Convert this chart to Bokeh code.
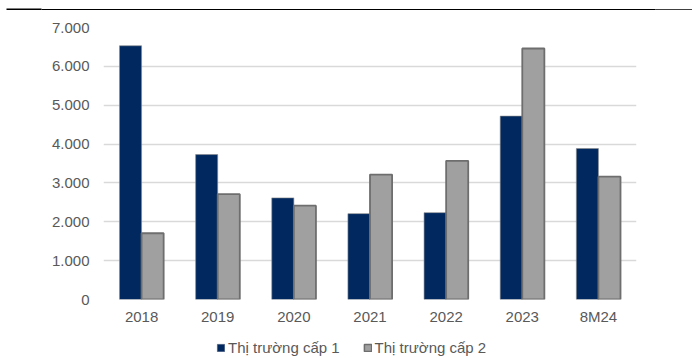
from bokeh.plotting import figure
from bokeh.models import (FactorRange, Range1d, ColumnDataSource, FixedTicker,
                          Legend, LegendItem)
from bokeh.transform import dodge
from bokeh.layouts import column
from bokeh.embed import file_html
from bokeh.resources import INLINE

# ---- data ----
categories = ["2018", "2019", "2020", "2021", "2022", "2023", "8M24"]
cap1 = [6530, 3730, 2615, 2210, 2235, 4720, 3885]
cap2 = [1705, 2710, 2415, 3215, 3570, 6460, 3160]
series_names = ["Thị trường cấp 1", "Thị trường cấp 2"]
y_ticks = [0, 1000, 2000, 3000, 4000, 5000, 6000, 7000]
y_tick_labels = ["0", "1.000", "2.000", "3.000", "4.000", "5.000", "6.000", "7.000"]

NAVY = "#012960"
GRAY = "#A0A0A0"
GRAY_EDGE = "#6E6E6E"
TXT = "#595959"
FONT = "Liberation Sans"


def bare(fig):
    fig.axis.visible = False
    fig.grid.visible = False
    fig.outline_line_color = None
    fig.frame_align = False
    return fig


# ---- top decorative rule ----
top = bare(figure(width=692, height=10, x_range=Range1d(0, 692), y_range=Range1d(10, 0),
                  output_backend="svg", toolbar_location=None,
                  min_border=0, min_border_left=0, min_border_right=0,
                  min_border_top=0, min_border_bottom=0))
top.segment(x0=[41], y0=[7], x1=[655], y1=[7], line_color="black", line_width=1)
top.segment(x0=[6], y0=[7.2], x1=[41], y1=[7.2], line_color="black", line_width=2.4)
top.segment(x0=[655], y0=[8], x1=[692], y1=[8], line_color="black", line_width=2.4)

# ---- main chart ----
src = ColumnDataSource(dict(cat=categories, cap1=cap1, cap2=cap2))

p = figure(width=692, height=325, x_range=FactorRange(*categories, range_padding=0),
           y_range=Range1d(0, 7000), output_backend="svg", toolbar_location=None,
           min_border_left=103, min_border_right=56, min_border_top=17,
           min_border_bottom=36)
p.outline_line_color = None
p.background_fill_color = "white"
p.border_fill_color = "white"

p.vbar(x=dodge("cat", -0.145, range=p.x_range), top="cap1", width=0.29,
       source=src, fill_color=NAVY, line_color="#8c8c8c", line_width=0.6)
p.vbar(x=dodge("cat", 0.145, range=p.x_range), top="cap2", width=0.29,
       source=src, fill_color=GRAY, line_color=GRAY_EDGE, line_width=1.8)

p.xgrid.visible = False
p.ygrid.grid_line_color = "#D9D9D9"
p.ygrid.grid_line_width = 1.3
p.yaxis.ticker = FixedTicker(ticks=y_ticks)
p.yaxis.major_label_overrides = {t: l for t, l in zip(y_ticks, y_tick_labels)}

for ax in (p.xaxis[0], p.yaxis[0]):
    ax.axis_line_color = None
    ax.major_tick_line_color = None
    ax.minor_tick_line_color = None
    ax.major_tick_out = 0
    ax.major_tick_in = 0
    ax.major_label_text_font = FONT
    ax.major_label_text_font_size = "15px"
    ax.major_label_text_color = TXT
p.yaxis.major_label_standoff = 14
p.xaxis.major_label_standoff = 8

# ---- legend strip (zero-size proxy glyphs only provide the legend keys) ----
leg = bare(figure(width=692, height=23, x_range=Range1d(0, 692), y_range=Range1d(0, 23),
                  output_backend="svg", toolbar_location=None,
                  min_border=0, min_border_left=0, min_border_right=0,
                  min_border_top=0, min_border_bottom=0))
key_src = ColumnDataSource(dict(x=[0], top=[0], bottom=[0], w=[0]))
k1 = leg.vbar(x="x", top="top", bottom="bottom", width="w", source=key_src,
              fill_color=NAVY, line_color="#3a4f75", line_width=0.6)
k2 = leg.vbar(x="x", top="top", bottom="bottom", width="w", source=key_src,
              fill_color=GRAY, line_color=GRAY_EDGE, line_width=1.5)
legend = Legend(items=[LegendItem(label=series_names[0], renderers=[k1]),
                       LegendItem(label=series_names[1], renderers=[k2])],
                orientation="horizontal", location=(216, 2),
                glyph_width=9, glyph_height=9, label_standoff=3, spacing=23,
                padding=0, margin=0, border_line_color=None,
                background_fill_alpha=0,
                label_text_font=FONT, label_text_font_size="15px",
                label_text_color=TXT)
leg.add_layout(legend, "center")

layout = column(top, p, leg, spacing=0)

with open("out.html", "w") as f:
    f.write(file_html(layout, INLINE))
